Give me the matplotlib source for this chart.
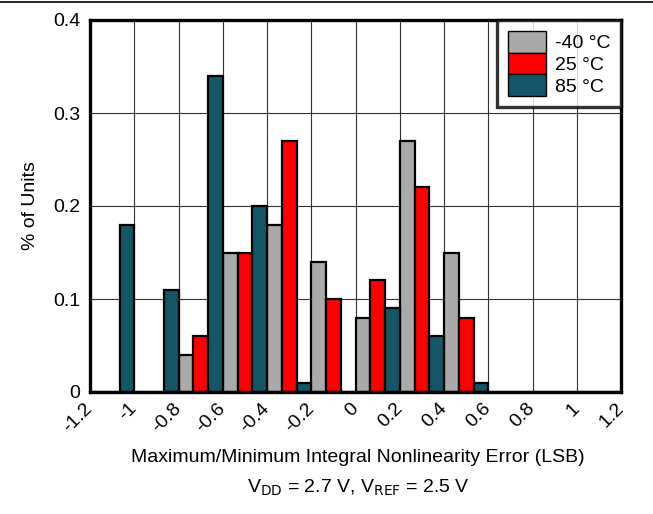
import numpy as np
import matplotlib
matplotlib.use('Agg')
import matplotlib.pyplot as plt

plt.rcParams['font.family'] = ['Liberation Sans', 'DejaVu Sans']

# bin starts (LSB) and % of units per temperature
bin_start = [-1.2, -1.0, -0.8, -0.6, -0.4, -0.2, 0.0, 0.2, 0.4, 0.6, 0.8, 1.0]
t_m40 = [0, 0, 0.04, 0.15, 0.18, 0.14, 0.08, 0.27, 0.15, 0, 0, 0]
t_25 = [0, 0, 0.06, 0.15, 0.27, 0.10, 0.12, 0.22, 0.08, 0, 0, 0]
t_85 = [0.18, 0.11, 0.34, 0.20, 0.01, 0, 0.09, 0.06, 0.01, 0, 0, 0]
labels = ['-40 °C', '25 °C', '85 °C']
colors = ['#aaaaaa', '#ff0000', '#145566']
xticks = [-1.2, -1.0, -0.8, -0.6, -0.4, -0.2, 0, 0.2, 0.4, 0.6, 0.8, 1.0, 1.2]
xtick_labels = ['-1.2', '-1', '-0.8', '-0.6', '-0.4', '-0.2', '0',
                '0.2', '0.4', '0.6', '0.8', '1', '1.2']

fs = 14

fig = plt.figure(figsize=(6.53, 5.14), dpi=100)
ax = fig.add_axes([90/653, 1-392/514, 531/653, 372/514])

w = 0.2 / 3
x = np.array(bin_start)
for i, (vals, lab, c) in enumerate(zip([t_m40, t_25, t_85], labels, colors)):
    ax.bar(x + i*w, vals, width=w, align='edge', color=c, edgecolor='black',
           linewidth=1.6, label=lab, zorder=3)

ax.set_xlim(-1.2, 1.2)
ax.set_ylim(0, 0.4)
ax.set_xticks(xticks)
ax.set_xticklabels(xtick_labels, rotation=45, ha='right', va='center',
                   rotation_mode='anchor')
ax.set_yticks([0, 0.1, 0.2, 0.3, 0.4])
ax.set_yticklabels(['0', '0.1', '0.2', '0.3', '0.4'])
ax.tick_params(length=0, labelsize=fs, pad=7)
ax.tick_params(axis='x', pad=10)
ax.grid(True, color='#333333', linewidth=0.8, zorder=0)
for s in ax.spines.values():
    s.set_linewidth(2.4)
    s.set_zorder(5)

ax.set_ylabel('% of Units', fontsize=fs, labelpad=10)
fig.text(358/653, 1-457/514, 'Maximum/Minimum Integral Nonlinearity Error (LSB)',
         ha='center', va='center', fontsize=fs)
fig.text(358/653, 1-488/514, r'V$_{\mathrm{DD}}$ = 2.7 V, V$_{\mathrm{REF}}$ = 2.5 V',
         ha='center', va='center', fontsize=fs)

leg = ax.legend(loc='upper right', fontsize=fs, frameon=True, fancybox=False,
                borderaxespad=0, handlelength=1.95, handleheight=1.35,
                labelspacing=0, handletextpad=0.46, borderpad=0.55)
leg.get_frame().set_edgecolor('black')
leg.get_frame().set_linewidth(2.4)
leg.set_zorder(6)
for h in leg.legend_handles:
    h.set_linewidth(1.0)

# top rule of the page
fig.add_artist(plt.Line2D([0, 1], [1-1.5/514, 1-1.5/514], color='black', linewidth=1.2))

fig.savefig('out.png', dpi=100)
